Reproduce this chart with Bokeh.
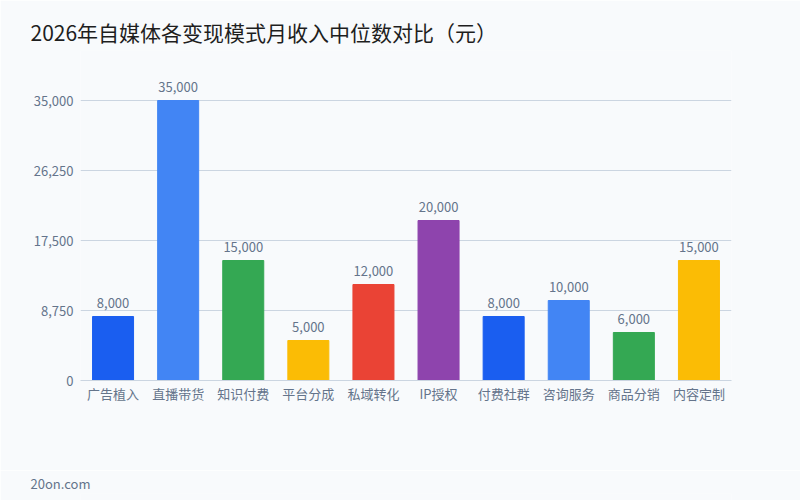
from bokeh.plotting import figure
from bokeh.layouts import column
from bokeh.models import ColumnDataSource, Title, FixedTicker, Range1d, CustomJSTickFormatter
from bokeh.embed import file_html
from bokeh.resources import INLINE
from bokeh.core.properties import value

categories = ["广告植入", "直播带货", "知识付费", "平台分成", "私域转化", "IP授权", "付费社群", "咨询服务", "商品分销", "内容定制"]
incomes = [8000, 35000, 15000, 5000, 12000, 20000, 8000, 10000, 6000, 15000]
colors = ["#1A5EF0", "#4285F4", "#34A853", "#FBBC05", "#EA4335", "#8E44AD", "#1A5EF0", "#4285F4", "#34A853", "#FBBC05"]
y_ticks = [0, 8750, 17500, 26250, 35000]

FONT = "Noto Sans CJK SC"
BG = "#F8FAFC"
GRAY = "#64748B"

labels = [f"{v:,}" for v in incomes]
src = ColumnDataSource(dict(cat=categories, v=incomes, c=colors, lab=labels))

# frame spans canvas y 50..380; 35000 sits at y=100
p = figure(x_range=categories, width=800, height=470, output_backend="svg",
           toolbar_location=None, y_range=Range1d(0, 41250),
           min_border_left=80, min_border_right=69, min_border_top=50, min_border_bottom=90,
           background_fill_color=BG, border_fill_color=BG, outline_line_color=None)

p.vbar(x="cat", top="v", width=0.63, color="c", source=src)
p.text(x="cat", y="v", text="lab", source=src, text_align="center", text_baseline="bottom",
       y_offset=-9, text_font=value(FONT), text_font_size="13px", text_color=GRAY)

p.yaxis.ticker = FixedTicker(ticks=y_ticks)
p.yaxis.formatter = CustomJSTickFormatter(code="return tick.toLocaleString('en-US');")
for ax in (p.xaxis, p.yaxis):
    ax.major_tick_line_color = None
    ax.minor_tick_line_color = None
    ax.major_tick_out = 0
    ax.major_tick_in = 0
    ax.major_label_text_font = FONT
    ax.major_label_text_font_size = "13px"
    ax.major_label_text_color = GRAY
p.yaxis.axis_line_color = None
p.xaxis.axis_line_color = "#CBD5E1"
p.xaxis.major_label_standoff = 3
p.yaxis.major_label_standoff = 7
p.xgrid.grid_line_color = None
p.ygrid.grid_line_color = "#CBD5E1"
p.x_range.range_padding = 0

p.title = Title(text="2026年自媒体各变现模式月收入中位数对比（元）", align="left", offset=-50, standoff=8,
                text_font=FONT, text_font_size="21px", text_color="#1E1E1E", text_font_style="normal")

foot = figure(width=800, height=30, output_backend="svg", toolbar_location=None,
              x_range=Range1d(0, 1), y_range=Range1d(0, 1), min_border=0, min_border_top=0,
              min_border_bottom=0, x_axis_location=None, y_axis_location=None,
              background_fill_color=BG, border_fill_color=BG, outline_line_color=None)
foot.grid.grid_line_color = None
foot.title = Title(text="20on.com", align="left", offset=-50, standoff=2, text_font=FONT,
                   text_font_size="13px", text_color=GRAY, text_font_style="normal")

layout = column(p, foot, spacing=0)
open("out.html", "w").write(file_html(layout, INLINE))
